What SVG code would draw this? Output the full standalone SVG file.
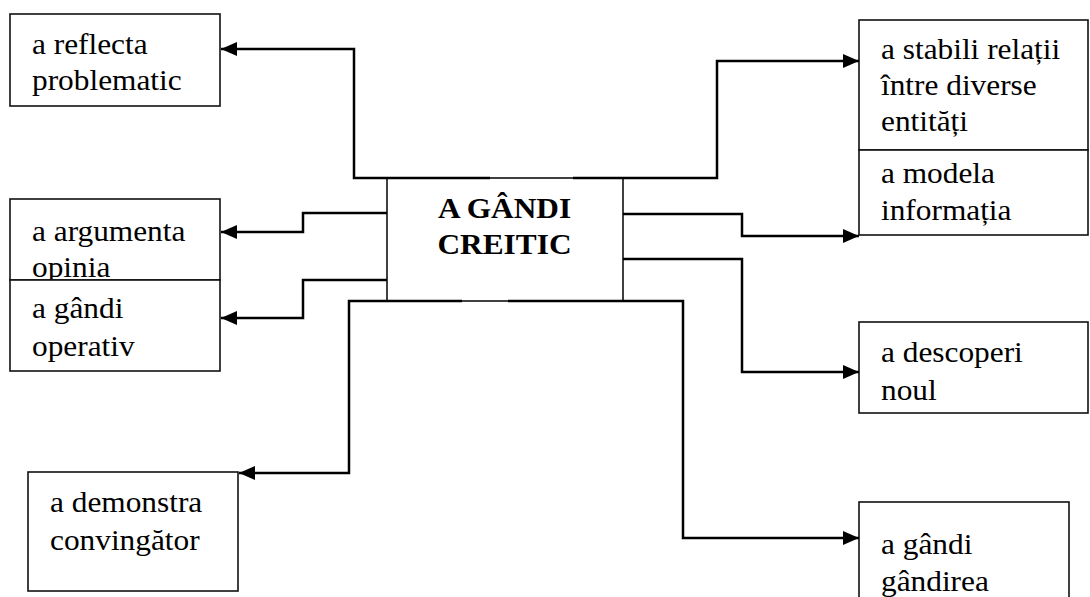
<svg xmlns="http://www.w3.org/2000/svg" width="1090" height="597" viewBox="0 0 1090 597">
<style>
.box{fill:#fff;stroke:#111;stroke-width:1.6}
.t{font-family:"Liberation Serif","Times New Roman",serif;font-size:28.5px;fill:#000}
.b{font-weight:bold;text-anchor:middle}
.c{fill:none;stroke:#000;stroke-width:2.5}
</style>
<defs>
<marker id="ah" markerUnits="userSpaceOnUse" markerWidth="16" markerHeight="14" refX="16" refY="7" orient="auto">
<path d="M0,0 L16,7 L0,14 z" fill="#000"/>
</marker>
</defs>
<rect width="1090" height="597" fill="#fff"/>
<g id="n-center"><rect class="box" x="387" y="178" width="236" height="123"/>
<text class="t b" transform="translate(504.5,0) scale(1.1,1)"><tspan x="0" y="218">A GÂNDI</tspan><tspan x="0" y="254">CREITIC</tspan></text></g>
<g id="n-reflecta"><rect class="box" x="10" y="14" width="210" height="92"/>
<text class="t" transform="translate(32,0) scale(1.1,1)"><tspan x="0" y="54">a reflecta</tspan><tspan x="0" y="90">problematic</tspan></text></g>
<g id="n-argumenta"><rect class="box" x="10" y="199" width="210" height="81"/>
<text class="t" transform="translate(32,0) scale(1.1,1)"><tspan x="0" y="241">a argumenta</tspan><tspan x="0" y="277">opinia</tspan></text></g>
<g id="n-operativ"><rect class="box" x="10" y="280" width="210" height="91"/>
<text class="t" transform="translate(32,0) scale(1.1,1)"><tspan x="0" y="318">a gândi</tspan><tspan x="0" y="356">operativ</tspan></text></g>
<g id="n-demonstra"><rect class="box" x="28" y="472" width="210" height="119"/>
<text class="t" transform="translate(50,0) scale(1.1,1)"><tspan x="0" y="512">a demonstra</tspan><tspan x="0" y="550">convingător</tspan></text></g>
<g id="n-stabili"><rect class="box" x="859" y="20" width="229" height="130"/>
<text class="t" transform="translate(881,0) scale(1.1,1)"><tspan x="0" y="59">a stabili relații</tspan><tspan x="0" y="95">între diverse</tspan><tspan x="0" y="131">entități</tspan></text></g>
<g id="n-modela"><rect class="box" x="859" y="150" width="229" height="85"/>
<text class="t" transform="translate(881,0) scale(1.1,1)"><tspan x="0" y="183">a modela</tspan><tspan x="0" y="220">informația</tspan></text></g>
<g id="n-descoperi"><rect class="box" x="859" y="322" width="229" height="91"/>
<text class="t" transform="translate(881,0) scale(1.1,1)"><tspan x="0" y="362">a descoperi</tspan><tspan x="0" y="400">noul</tspan></text></g>
<g id="n-gandirea"><rect class="box" x="859" y="502" width="210" height="110"/>
<text class="t" transform="translate(881,0) scale(1.1,1)"><tspan x="0" y="554">a gândi</tspan><tspan x="0" y="591">gândirea</tspan></text></g>
<g id="connectors">
<path class="c" marker-end="url(#ah)" d="M490,178 H354 V49 H221"/>
<path class="c" marker-end="url(#ah)" d="M387,213 H303 V232 H221"/>
<path class="c" marker-end="url(#ah)" d="M387,280 H303 V318 H221"/>
<path class="c" marker-end="url(#ah)" d="M462,301 H349 V473 H239"/>
<path class="c" marker-end="url(#ah)" d="M573,178 H717 V61 H859"/>
<path class="c" marker-end="url(#ah)" d="M623,214 H742 V236 H859"/>
<path class="c" marker-end="url(#ah)" d="M623,259 H742 V372 H859"/>
<path class="c" marker-end="url(#ah)" d="M508,301 H683 V538 H859"/>
</g>
</svg>
